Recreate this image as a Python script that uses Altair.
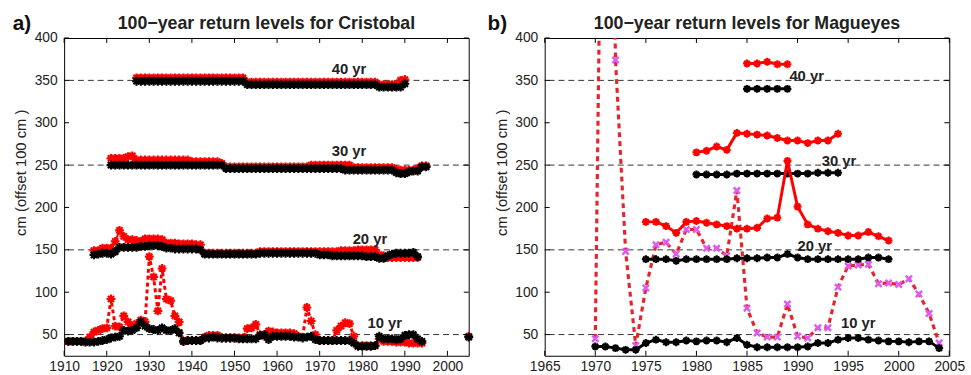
import altair as alt
import pandas as pd

FONT = "Liberation Sans"

# ---------------- Panel a: Cristobal ----------------
a_years_10 = list(range(1911, 1995))
a_black_10 = [42, 42, 42, 42, 41, 41, 41,
              42, 43, 44,
              46, 47, 48,
              55, 54, 55,
              58, 65, 60, 57, 56, 55, 58, 55, 55, 57, 52,
              42, 43, 43, 43, 43,
              46, 46, 47, 46, 46, 46, 46, 46,
              45, 45, 45, 45, 45,
              49, 50,
              44,
              48, 48, 48, 48, 48, 47, 47,
              46, 47, 48,
              44, 43, 43, 43, 43, 43, 43, 43, 43,
              40,
              36, 36, 36, 36, 37,
              48,
              45, 45, 45, 44, 45,
              49, 50, 50,
              45, 42]
a_red_10 = [42, 42, 42, 42, 42,
            47, 53, 55, 57, 58,
            92, 60, 59, 72, 65, 60, 63, 67, 65,
            142, 118, 78, 128, 92, 90, 72, 65,
            42, 43, 43, 43, 43,
            47, 49, 49, 49,
            46, 46, 46, 46, 46, 46,
            57, 58, 62, 50, 48,
            54, 53, 52, 52, 52, 52, 51,
            48, 47, 82, 66, 50,
            43, 43, 43, 43,
            55, 60, 64, 63, 48,
            37, 37, 37, 37, 37,
            45, 42, 42, 42, 41, 41, 41,
            40, 40, 40, 40]

a_years_20 = list(range(1917, 1994))
a_black_20 = [144, 145, 146, 146, 145,
              148, 153,
              153, 153, 153, 153, 154, 154,
              155, 155, 155, 154,
              152, 152, 151, 151, 151, 151, 151, 151, 150,
              145, 145, 145, 145, 145, 145, 145, 145, 145, 145, 145, 145, 145,
              146, 146, 146, 146, 146, 146, 146, 146, 146, 146, 146, 146, 146, 146,
              144, 144, 144, 143, 143, 143, 143, 143, 143, 143, 143,
              142, 142, 142,
              140, 140,
              143,
              145, 146, 146, 146, 146, 147,
              142]
a_red_20 = [149, 149,
            152, 152, 152,
            160, 173, 166,
            162, 162, 161, 160,
            163, 163, 163, 163, 162,
            158, 158, 158,
            157, 157, 157, 157, 156, 156,
            146, 146, 146, 146, 146, 146, 146, 146, 146, 146, 146, 146, 146,
            148, 148, 148, 148, 148, 148, 148, 148, 148, 148, 148, 148, 148, 148, 148, 148, 148, 148, 148,
            149, 149, 149, 149, 150, 150, 150, 150, 150,
            144, 143,
            141, 141, 141, 141, 141, 141, 141, 141]

a_years_30 = list(range(1921, 1996))
a_black_30 = [250, 250, 250, 250, 250, 250, 250, 250, 250, 250, 250, 250, 250, 250,
              250, 250, 250, 250, 250, 250, 250, 250, 250, 250, 250, 250, 250,
              246, 246, 246, 246, 246, 246, 246, 246, 246, 246, 246, 246, 246, 246,
              246, 246, 246, 246, 246, 246, 246, 246, 246, 246, 246, 246, 246, 246,
              244, 244, 244, 244, 244, 244, 244, 244, 244, 244, 244, 244,
              241, 240, 240,
              242, 243, 243,
              248, 248]
a_red_30 = [258, 258, 258, 258,
            260, 261,
            256, 256, 256, 256, 256, 256, 256, 256, 256, 256, 256, 256, 256,
            254, 254, 254, 254, 254, 254, 254,
            252,
            248, 248, 248, 248, 248, 248, 248, 248, 248, 248,
            248, 248, 248, 248, 248, 248, 248, 248, 248, 248,
            250, 250, 250, 250, 250, 250, 250, 250, 250, 250,
            247, 247, 247, 247, 247, 247, 247, 247, 247, 247,
            245, 244, 244, 244, 244,
            246,
            249, 249]

a_years_40 = list(range(1927, 1991))
a_black_40 = [349, 349, 349, 349, 349, 349, 349, 349, 349, 349, 349, 349, 349,
              349, 349, 349, 349, 349, 349, 349, 349, 349, 349, 349, 349, 349,
              345, 345, 345, 345, 345, 345, 345, 345, 345, 345, 345, 345, 345, 345, 345, 345,
              345, 345, 345, 345, 345, 345, 345, 345, 345, 345, 345, 345, 345, 345, 345,
              342, 342, 342, 342, 342, 342,
              346]
a_red_40 = [353, 353, 353, 353, 353, 353, 353, 353, 353, 353, 353, 353, 353,
            353, 353, 353, 353, 353, 353, 353, 353, 353, 353, 353, 353, 353,
            348, 348, 348, 348, 348, 348, 348, 348, 348, 348, 348, 348, 348, 348, 348, 348,
            348, 348, 348, 348, 348, 348, 348, 348, 348, 348, 348, 348, 348, 348, 348,
            345, 345, 345, 345, 345,
            350, 351]

a_extra_year = [2005]
a_extra_black = [47]
a_extra_red = [48]

# ---------------- Panel b: Magueyes ----------------
b_years_10 = list(range(1970, 2005))
b_black_10 = [36, 36, 34, 32, 32, 40, 44, 41, 41, 43,
              42, 43, 43, 41, 46, 38, 35, 35, 35, 35,
              35, 36, 40, 40, 44, 46, 46, 44, 43, 42,
              42, 41, 42, 42, 34]
b_red_10 = [45, 1000, 374, 148, 37, 105, 156, 159, 145, 174,
            174, 152, 152, 143, 220, 81, 52, 47, 47, 86,
            48, 46, 58, 58, 106, 131, 132, 133, 110, 111,
            109, 116, 98, 75, 40]

b_years_20 = list(range(1975, 2000))
b_black_20 = [139, 139, 139, 137, 139, 139, 139, 139, 139, 140,
              140, 140, 141, 141, 145, 141, 139, 139, 139, 139,
              139, 139, 141, 141, 139]
b_red_20 = [183, 183, 178, 170, 183, 184, 182, 180, 178, 175,
            175, 176, 187, 188, 255, 201, 180, 175, 172, 170,
            167, 167, 171, 166, 161]

b_years_30 = list(range(1980, 1995))
b_black_30 = [239, 239, 239, 239, 240, 240, 240, 240, 240, 240, 240, 240, 241, 241, 241]
b_red_30 = [265, 267, 272, 268, 288, 287, 286, 285, 282, 279, 279, 276, 279, 279, 287]

b_years_40 = list(range(1985, 1990))
b_black_40 = [340, 340, 340, 340, 340]
b_red_40 = [370, 370, 372, 369, 369]

# ---------------- shared text / ticks ----------------
ref_levels = [50, 150, 250, 350]
level_labels = ["10 yr", "20 yr", "30 yr", "40 yr"]
a_label_x = [1985.3, 1981.8, 1976.9, 1976.9]
a_label_y = [64, 163, 267, 363]
b_label_x = [1996.0, 1991.7, 1994.1, 1990.9]
b_label_y = [64, 155, 255, 355]
y_ticks = [50, 100, 150, 200, 250, 300, 350, 400]
a_x_ticks = [1910, 1920, 1930, 1940, 1950, 1960, 1970, 1980, 1990, 2000]
b_x_ticks = [1965, 1970, 1975, 1980, 1985, 1990, 1995, 2000, 2005]
a_title = "100\u2212year return levels for Cristobal"
b_title = "100\u2212year return levels for Magueyes"

ASTER = "M-1,0L1,0M0,-1L0,1M-0.7,-0.7L0.7,0.7M-0.7,0.7L0.7,-0.7"
XMARK = "M-1,-1L1,1M-1,1L1,-1"

W, H = 410, 322


def panel(series, xdom, xticks, title, tag, lab_x, lab_y, tag_dx):
    xs = alt.Scale(domain=xdom, nice=False, zero=False)
    ys = alt.Scale(domain=[25, 400], nice=False, zero=False)
    xax = alt.Axis(values=xticks, format="d", tickSize=0, domain=False, grid=False,
                   labelFontSize=14, labelPadding=4, labelColor="#222", labelFont=FONT,
                   labelFlush=False, labelOverlap=False, title=None)
    yax = alt.Axis(values=y_ticks, tickSize=0, domain=False, grid=False,
                   labelFontSize=14, labelPadding=7, labelColor="#222", labelFont=FONT,
                   title="cm (offset 100 cm )", titleFont=FONT, titleFontSize=15,
                   titleFontWeight="normal", titleColor="#222",
                   titleX=-44, titleY=136, titleBaseline="middle")
    X = lambda: alt.X("year:Q", scale=xs, axis=xax)
    Y = lambda: alt.Y("value:Q", scale=ys, axis=yax)

    layers = []
    ref = alt.Chart(pd.DataFrame({"value": ref_levels})).mark_rule(
        color="#333", strokeWidth=1, strokeDash=[6, 4]).encode(y=Y())
    layers.append(ref)

    for s in series:
        df = pd.DataFrame({"year": s["years"], "value": s["values"]})
        base = alt.Chart(df).encode(x=X(), y=Y())
        if s.get("line", True):
            kw = dict(color=s["color"], strokeWidth=s["width"], clip=True)
            if s.get("dash"):
                kw["strokeDash"] = s["dash"]
            layers.append(base.mark_line(**kw))
        layers.append(base.mark_point(shape=s["shape"], color=s["mcolor"], size=s["msize"],
                                      strokeWidth=s["mstroke"], filled=False, opacity=1,
                                      clip=s.get("clip", True)))

    labels = alt.Chart(pd.DataFrame({"year": lab_x, "value": lab_y, "label": level_labels})).mark_text(
        font=FONT, fontSize=15, fontWeight="bold", color="#222", align="center", baseline="middle"
    ).encode(x=X(), y=Y(), text="label:N")
    layers.append(labels)

    xt = pd.DataFrame({"year": xticks})
    yt = pd.DataFrame({"value": y_ticks})
    layers.append(alt.Chart(xt).mark_rule(color="black", strokeWidth=1).encode(
        x=X(), y=alt.value(0), y2=alt.value(5)))
    layers.append(alt.Chart(xt).mark_rule(color="black", strokeWidth=1).encode(
        x=X(), y=alt.value(H - 5), y2=alt.value(H)))
    layers.append(alt.Chart(yt).mark_rule(color="black", strokeWidth=1).encode(
        y=Y(), x=alt.value(0), x2=alt.value(5)))
    layers.append(alt.Chart(yt).mark_rule(color="black", strokeWidth=1).encode(
        y=Y(), x=alt.value(W - 5), x2=alt.value(W)))

    # panel tag and title as text marks
    layers.append(alt.Chart(pd.DataFrame({"t": [tag]})).mark_text(
        font=FONT, fontSize=21, fontWeight="bold", color="#111", align="left", baseline="alphabetic"
    ).encode(x=alt.value(tag_dx), y=alt.value(-8), text="t:N"))
    layers.append(alt.Chart(pd.DataFrame({"t": [title]})).mark_text(
        font=FONT, fontSize=18, fontWeight="bold", color="#222", align="center", baseline="alphabetic"
    ).encode(x=alt.value(W / 2), y=alt.value(-9), text="t:N"))

    return alt.layer(*layers).properties(width=W, height=H)


RED = "#ff0000"
CRIM = "#e3262e"
MAG = "#dd5cf0"

a_series = [
    dict(years=a_years_10, values=a_red_10, color=RED, width=3, dash=[4, 3], shape=ASTER, mcolor=RED, msize=80, mstroke=2.2),
    dict(years=a_years_20, values=a_red_20, color=RED, width=2, shape=ASTER, mcolor=RED, msize=80, mstroke=2.2),
    dict(years=a_years_30, values=a_red_30, color=RED, width=2, shape=ASTER, mcolor=RED, msize=80, mstroke=2.2),
    dict(years=a_years_40, values=a_red_40, color=RED, width=2, shape=ASTER, mcolor=RED, msize=80, mstroke=2.2),
    dict(years=a_extra_year, values=a_extra_red, line=False, color=RED, width=2, shape=ASTER, mcolor=RED, msize=80, mstroke=2.2, clip=False),
    dict(years=a_years_10, values=a_black_10, color="black", width=2, shape=ASTER, mcolor="black", msize=80, mstroke=2.2),
    dict(years=a_years_20, values=a_black_20, color="black", width=2, shape=ASTER, mcolor="black", msize=80, mstroke=2.2),
    dict(years=a_years_30, values=a_black_30, color="black", width=2, shape=ASTER, mcolor="black", msize=80, mstroke=2.2),
    dict(years=a_years_40, values=a_black_40, color="black", width=2, shape=ASTER, mcolor="black", msize=80, mstroke=2.2),
    dict(years=a_extra_year, values=a_extra_black, line=False, color="black", width=2, shape=ASTER, mcolor="black", msize=80, mstroke=2.2, clip=False),
]

b_series = [
    dict(years=b_years_10, values=b_red_10, color=CRIM, width=3.2, dash=[5, 4], shape=XMARK, mcolor=MAG, msize=40, mstroke=2.5),
    dict(years=b_years_10, values=b_black_10, color="black", width=3, shape=ASTER, mcolor="black", msize=64, mstroke=2.2),
    dict(years=b_years_20, values=b_black_20, color="black", width=3, shape=ASTER, mcolor="black", msize=64, mstroke=2.2),
    dict(years=b_years_30, values=b_black_30, color="black", width=3, shape=ASTER, mcolor="black", msize=64, mstroke=2.2),
    dict(years=b_years_40, values=b_black_40, color="black", width=3, shape=ASTER, mcolor="black", msize=64, mstroke=2.2),
    dict(years=b_years_20, values=b_red_20, color=RED, width=3, shape=ASTER, mcolor=RED, msize=64, mstroke=2.2),
    dict(years=b_years_30, values=b_red_30, color=RED, width=3, shape=ASTER, mcolor=RED, msize=64, mstroke=2.2),
    dict(years=b_years_40, values=b_red_40, color=RED, width=3, shape=ASTER, mcolor=RED, msize=64, mstroke=2.2),
]

pa = panel(a_series, [1910, 2005], a_x_ticks, a_title, "a)", a_label_x, a_label_y, -52)
pb = panel(b_series, [1965, 2005], b_x_ticks, b_title, "b)", b_label_x, b_label_y, -58)

chart = alt.hconcat(pa, pb, spacing=8).properties(
    padding={"left": 12, "top": 10, "right": 5, "bottom": 0},
    background="white",
).configure_view(stroke="black", strokeWidth=1)

chart.save("out.html", embed_options={"renderer": "svg", "actions": False})
